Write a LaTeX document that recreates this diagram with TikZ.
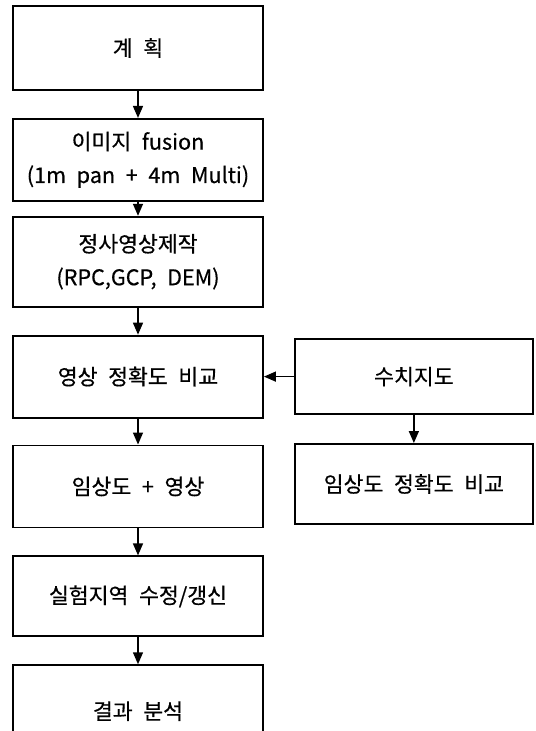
\documentclass[tikz,border=0pt]{standalone}
\usepackage{fontspec}
\setmainfont{Noto Sans CJK KR}[WordSpace=2.2, FakeBold=0.5]
\usetikzlibrary{positioning,arrows.meta}

\begin{document}
\begin{tikzpicture}[node distance=20.25pt,
    box/.style={draw, rectangle, line width=1.4pt, minimum width=187.5pt, minimum height=61.5pt, align=center, font=\fontsize{16.2}{25}\selectfont},
    sidebox/.style={box, minimum width=178.5pt},
    flow/.style={-{Triangle[length=9pt,width=7.5pt]}, line width=1.1pt}]
        \useasboundingbox (0,0) rectangle (401.25pt,-548.25pt);
        \node (plan) [box, minimum height=63pt] at (103.5pt,-36pt) {계 획};
        \node (fusion) [box, below=of plan] {이미지 fusion\\(1m pan + 4m Multi)};
        \node (ortho) [box, below=10.5pt of fusion, minimum height=67.5pt] {정사영상제작\\(RPC,GCP, DEM)};
        \node (accuracy) [box, below=of ortho] {영상 정확도 비교};
        \node (overlay) [box, below=19.5pt of accuracy] {임상도 + 영상};
        \node (update) [box, below=of overlay, minimum height=60pt] {실험지역 수정/갱신};
        \node (result) [box, below=of update, minimum height=69pt] {결과 분석};
        \node (digimap) [sidebox, right=22.5pt of accuracy, minimum height=56.25pt] {수치지도};
        \node (forestacc) [sidebox, below=21pt of digimap, minimum height=60pt] {임상도 정확도 비교};

        \draw[flow] (plan) -- (fusion);
        \draw[flow] (fusion) -- (ortho);
        \draw[flow] (ortho) -- (accuracy);
        \draw[flow] (accuracy) -- (overlay);
        \draw[flow] (overlay) -- (update);
        \draw[flow] (update) -- (result);
        \draw[flow] (digimap) -- (accuracy);
        \draw[flow] (digimap) -- (forestacc);
\end{tikzpicture}
\end{document}
